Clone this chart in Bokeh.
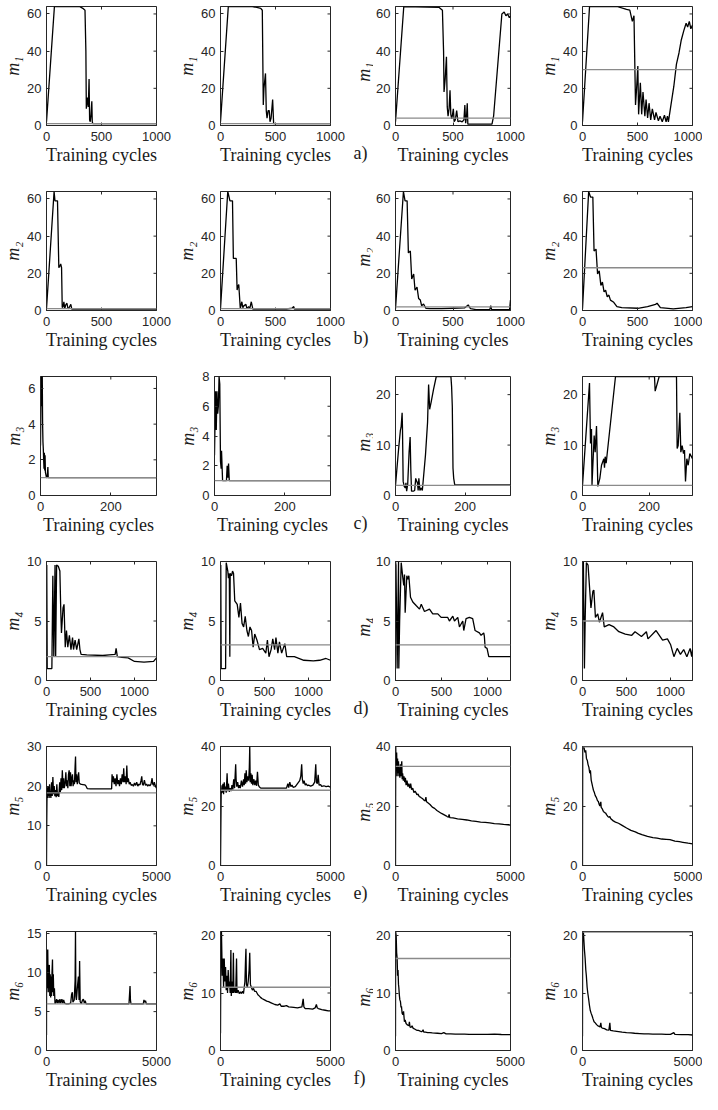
import math
from bokeh.plotting import figure
from bokeh.layouts import column, row
from bokeh.models import Range1d, FixedTicker, Span
from bokeh.core.properties import value
from bokeh.embed import file_html
from bokeh.resources import INLINE

# ---------------- data (x = training cycle, y = value) ----------------
a1 = [(0,2),(72,64),(300,64),(330,63),(350,62),(358,40),(362,9),(372,15),(380,10),(387,25),(392,3),(398,2),(405,6),(412,13),(416,2),(421,1),(1000,1)]
a2 = [(0,2),(71,64),(290,64),(330,63.5),(366,63),(380,62),(389,11),(395,20),(409,28),(416,8),(423,4),(433,8),(443,8),(450,2),(460,4),(474,14),(483,1),(1000,1)]
a3 = [(0,2),(72,64),(380,63.5),(408,62),(418,40),(422,18),(432,25),(443,37),(450,10),(457,5),(466,9),(474,19),(481,6),(489,3.5),(496,6),(503,9),(510,2),(520,3),(532,8),(543,2),(560,2.5),(580,2),(595,3),(603,11),(610,1.2),(618,5),(624,12),(629,0.7),(700,0.7),(839,0.7),(853,5),(925,60),(945,61),(960,59),(975,60),(990,58),(1000,59)]
a4 = [(0,2),(64,64),(313,64),(400,62.5),(430,62),(453,56),(468,59),(482,11),(492,20),(503,32),(510,6),(526,23),(538,6),(550,18),(567,5),(578,14),(592,4),(605,12),(620,3),(635,9),(655,3),(668,7),(690,2.5),(705,5),(725,2),(745,5.5),(760,2),(772,5),(781,2),(795,7.5),(830,21),(854,33),(877,39),(898,46),(921,51),(942,55),(956,53),(971,56),(985,52),(1000,54)]

b1 = [(0,1),(69,64),(77,59),(100,59),(112,23),(122,24),(129,25),(137,23),(143,1.6),(150,2),(158,4.7),(166,1),(175,3),(186,3.9),(195,1),(205,1.5),(221,3.3),(230,0.8),(1000,0.8)]
b2 = [(0,1),(66,64),(86,59),(109,59),(117,28),(143,28),(151,11),(158,13),(166,14),(180,1),(194,4.7),(203,1.5),(212,2.5),(231,3.3),(240,1),(255,2),(268,1.5),(280,4.7),(294,0.8),(600,0.8),(650,1.2),(666,2.1),(672,0.8),(1000,0.8)]
b3 = [(0,1),(69,64),(83,59),(101,59),(112,31),(129,32),(141,17),(158,19.6),(170,10.9),(187,12.6),(201,6.5),(216,5.6),(227,2.6),(244,3.5),(264,1.2),(300,1),(400,1),(500,1.2),(600,1.4),(632,3),(652,1),(700,0.5),(820,0.5),(828,2.6),(836,0.5),(992,0.5),(1000,5.6)]
b4 = [(0,1),(56,64),(73,61),(94,61),(105,32),(123,33),(137,19.6),(152,21.4),(167,13.5),(181,15.3),(196,10),(210,10.9),(225,7.4),(240,8.3),(254,5.6),(284,4.4),(313,2.1),(357,1.6),(503,1.2),(591,2.1),(664,3.3),(678,3.9),(708,1.5),(825,0.9),(942,1.6),(1000,2.1)]

c1 = [(0,2.8),(2,6.7),(4,5),(5,6.7),(6,4),(7,3),(8,2.6),(9,2.0),(10,1.5),(11,2.4),(12,1.4),(13,2.25),(14,1.3),(15,1.2),(17,1.0),(19,1.0),(21,1.6),(22,1.0),(23,1.0),(330,1.0)]
c2 = [(0,2.7),(3,7),(5,4.4),(7,7),(9,5.5),(11,6),(13,8),(15,7.5),(17,2.3),(19,1.8),(20,3.0),(23,1),(34,1),(36,2.0),(38,1.2),(40,2.15),(42,1),(330,1)]
c3 = [(0,2),(6.5,7.3),(9,9.3),(14,12.9),(16,13.5),(19,16.4),(20,13.5),(22,2.8),(25,1.8),(28,1.5),(30,2.5),(32,0.85),(35,2.2),(39,8.6),(42,11.6),(44,5),(46,0.85),(51,0.85),(55,1),(58,3.4),(61,2.8),(63,2.5),(65,1),(67,3.4),(70,1),(74,1.5),(77,1),(86,8),(92,14.5),(95,22),(98,17.1),(102,18.4),(109,21),(117,23.6),(159,23.6),(161,21.6),(163,17.7),(165,5.4),(167,3.4),(170,2.1),(330,2.1)]
c4 = [(0,2),(21,22.3),(24,10.3),(27,13.2),(28.5,2.1),(35,11.9),(38,8.6),(42,13.8),(46,1.8),(52,3.4),(57,6),(64,7.3),(66,5.5),(68,7.7),(71,6.4),(99,23.6),(216,23.6),(218,20.7),(230,23.6),(282,23.6),(284,9.3),(287,9.9),(292,16.4),(295,8.6),(299,9.9),(303,8.3),(306,9),(309,2.8),(313,7.3),(317,6),(322,8.3),(330,7.3)]

d1 = [(0,1),(3,9.7),(8,1),(25,1),(61,1),(72,8.8),(83,2),(97,9.7),(104,2),(115,9.7),(134,9.6),(152,9.2),(162,5.9),(170,4),(188,6.1),(199,6.4),(213,2.8),(227,4.2),(242,2.8),(260,3.8),(278,2.6),(296,3.6),(307,2.6),(325,3.4),(343,2.6),(368,3.5),(380,2.6),(393,2.2),(458,2.15),(639,2.1),(711,2.15),(780,2.2),(791,2.7),(805,2),(856,1.95),(928,1.9),(1000,1.6),(1108,1.55),(1217,1.6),(1250,1.9)]
d2 = [(0,1),(3,9.7),(8,1),(25,1),(58,1),(65,9.9),(83,9.2),(90,8.6),(100,9),(106,2),(110,9),(125,8.8),(137,9.2),(148,9),(162,6.7),(190,6.4),(209,5.3),(227,6.5),(245,4.8),(263,4.5),(281,5.4),(300,4.2),(317,3.7),(335,4.5),(353,4.2),(371,2.8),(389,3.9),(414,3.4),(443,2.6),(479,2.7),(515,2.3),(533,3.4),(551,2),(575,2.6),(594,3.5),(615,2.6),(630,3.6),(652,2.3),(670,3.25),(695,2.3),(731,3.1),(752,2),(839,2),(947,1.7),(1055,1.65),(1127,1.7),(1199,1.85),(1250,1.7)]
d3 = [(0,10),(5,9.7),(18,1),(33,10),(36,1),(45,5),(62,9.9),(80,8.6),(90,8),(98,8.9),(105,5.7),(123,8.8),(134,8.5),(145,8.8),(163,7),(188,6.6),(224,6.3),(261,6),(280,6.4),(315,5.8),(369,6),(405,5.6),(460,5.6),(496,5.3),(568,5.3),(586,5.0),(623,5.4),(641,5.0),(677,5.3),(695,4.5),(731,5.0),(742,4.2),(767,5.2),(803,5.3),(839,5.2),(865,4.2),(912,4.0),(930,3.8),(959,4.0),(966,3.7),(974,2.8),(995,2.7),(1014,2),(1250,2)]
d4 = [(0,10),(5,5),(10,10),(22,1),(30,5),(44,9.9),(63,9.7),(96,6.1),(118,7.5),(129,7.6),(147,5.3),(173,5.6),(192,4.9),(228,5.7),(247,4.5),(302,4.7),(357,4.5),(413,4.1),(486,3.9),(560,3.8),(597,4.1),(670,3.7),(726,4.1),(744,3.5),(836,4.2),(910,3.4),(965,3.5),(1002,3.0),(1039,2),(1076,2.7),(1113,2.2),(1150,2.6),(1186,2),(1223,2.7),(1241,2),(1250,2.6)]

e1 = [(0,0),(10,10),(20,16),(30,19.5),(45,17),(60,20),(80,17.5),(100,19.8),(120,17),(140,20.5),(160,17.5),(180,18.5),(200,17),(230,21),(260,17.5),(290,22.3),(320,18),(350,20),(380,17.5),(410,19),(440,17.2),(470,20.5),(500,17.5),(530,18.5),(560,17.3),(600,21),(630,18.5),(660,22),(690,19),(720,24),(750,19.5),(780,22),(810,19.5),(850,21),(880,23.5),(910,20),(940,21.5),(970,19.5),(1000,23),(1030,24),(1060,20),(1090,23.5),(1120,20),(1150,22),(1180,23),(1210,20),(1240,21.5),(1270,20.5),(1300,25),(1320,27.5),(1340,21),(1370,23),(1400,20.5),(1430,22),(1460,23.5),(1490,20.8),(1550,20.5),(1650,20.4),(1750,20.3),(1800,20),(1850,19.4),(2000,19.3),(2500,19.3),(2960,19.3),(2980,23),(3010,21),(3040,22.5),(3080,20.5),(3120,22),(3160,20),(3200,23),(3240,20.5),(3280,21.5),(3320,20),(3360,22),(3400,20.5),(3440,23),(3480,21),(3510,24.5),(3540,21),(3580,22.5),(3620,20.5),(3650,25.2),(3680,21),(3720,22),(3760,20.5),(3800,21),(3850,20.2),(3900,20.4),(3950,20),(4000,20.8),(4050,20.2),(4100,21),(4150,20),(4200,20.5),(4250,20.3),(4300,21.5),(4330,22.5),(4360,20.5),(4400,20.2),(4450,21.5),(4500,20.2),(4550,20.5),(4600,20),(4650,20.4),(4700,20.1),(4750,20.5),(4800,22),(4830,20.5),(4870,20.2),(4900,21),(4950,20),(5000,19.5)]
e2 = [(0,0),(15,12),(30,24),(50,25),(70,27),(90,24.5),(110,27.5),(140,24),(170,28),(200,25),(230,26.5),(260,24.5),(300,31),(330,25),(360,27.5),(400,24.8),(440,26),(480,25),(520,27),(560,25.5),(600,29),(640,26),(670,31),(690,34),(710,29),(740,26.5),(780,28),(820,26),(860,27),(900,26),(950,28.5),(1000,26.5),(1050,29),(1080,27),(1110,31),(1140,27.5),(1170,32),(1200,28),(1240,30),(1280,28.5),(1310,33),(1330,40),(1350,28),(1380,31),(1410,27.5),(1440,30.5),(1470,27),(1520,29),(1560,27),(1600,28.5),(1640,26.8),(1680,31.5),(1720,27),(1760,26.5),(1830,26),(2000,26),(2500,26),(3000,26),(3060,27.5),(3100,26.2),(3150,28),(3200,26.5),(3250,27),(3300,26.3),(3400,26.5),(3500,27.5),(3600,28.5),(3650,30),(3690,34),(3720,29),(3760,27.5),(3800,28.5),(3850,27),(3900,27.5),(3950,26.8),(4000,27),(4100,26.7),(4200,27),(4280,28),(4330,34),(4360,28),(4400,27.5),(4440,30.5),(4480,27),(4550,27.2),(4600,26.6),(4700,26.8),(4800,26.5),(4900,26.7),(5000,26.3)]
e3 = [(0,0),(10,40),(30,32),(50,38),(70,30),(90,36),(110,31),(130,35),(150,30),(170,33),(190,29.5),(210,34),(230,30),(250,33),(273,35),(290,29),(310,31),(340,28.5),(370,30),(400,28),(430,29.5),(460,27),(500,28.5),(540,26.5),(580,27.5),(620,26),(660,27.5),(700,25.5),(750,26),(800,24.5),(850,25),(890,24.5),(930,23.8),(980,24),(1030,23.2),(1080,23),(1130,22.7),(1180,22.5),(1230,22),(1290,21.7),(1322,23),(1350,21.4),(1420,21),(1500,20.5),(1600,19.6),(1700,19.2),(1800,18.5),(1900,18),(2000,17.5),(2100,17.1),(2200,16.7),(2256,16.4),(2300,16.2),(2330,17.2),(2360,16.1),(2500,16),(2700,15.7),(2900,15.5),(3100,15.3),(3300,15),(3500,14.8),(3700,14.6),(3900,14.5),(4100,14.3),(4300,14.1),(4500,14),(4700,13.8),(4900,13.7),(5000,13.6)]
e4 = [(0,0),(10,40),(40,40),(73,39.5),(110,38),(146,38.7),(180,36),(219,35.3),(250,34),(292,33),(330,31),(360,32),(395,28.7),(430,27.5),(460,26.5),(497,25.3),(540,24.5),(580,23.5),(620,23),(643,22.6),(680,21.8),(720,21.5),(760,20.5),(790,20),(833,21.4),(850,19.5),(900,19),(950,18.2),(1000,17.8),(1053,17.6),(1100,17),(1150,16.5),(1200,16.2),(1243,16.5),(1272,15.9),(1300,15.6),(1400,15),(1500,14.6),(1637,14.2),(1800,13.5),(2003,12.6),(2200,11.8),(2400,11.3),(2515,10.9),(2700,10.4),(2953,9.8),(3200,9.4),(3392,9.2),(3600,8.9),(3800,8.8),(3977,8.7),(4200,8.2),(4400,8),(4562,7.8),(4800,7.5),(5000,7.3)]

f1 = [(0,2),(5,13),(30,8),(57,13),(80,7.5),(100,10.5),(129,11),(150,7),(170,9.8),(190,6.8),(210,9.5),(230,7),(250,10),(272,11.7),(290,7.5),(310,9.8),(330,7),(360,8),(387,6),(420,6.2),(460,6.6),(490,6.1),(530,6.5),(570,6.1),(610,6.6),(650,6.1),(700,6.6),(740,6.1),(780,6.5),(820,6.1),(900,6),(1000,6),(1100,6.1),(1140,7.2),(1175,7.5),(1200,6.2),(1260,6.5),(1300,9),(1318,15.3),(1335,7),(1360,6.5),(1400,8),(1450,9.5),(1480,6.5),(1505,11.5),(1530,6.3),(1580,6),(1640,6.5),(1677,6.6),(1720,6.1),(1760,6.4),(1800,6),(2000,6),(3000,6),(3750,6),(3780,7.5),(3797,8.3),(3815,6.5),(3840,6),(4400,6),(4430,6.5),(4460,6.2),(4500,6.4),(4540,6),(5000,6)]
f2 = [(0,3),(20,20.7),(43,20.7),(80,13),(110,16),(140,11),(170,16),(200,12),(230,14.5),(260,10.5),(290,13),(320,10),(350,14),(380,11),(410,12),(440,10),(472,17.5),(490,9.5),(530,12),(560,10),(586,17),(610,10),(650,11),(690,10),(729,16),(750,10),(800,10.5),(850,9.9),(900,10.2),(950,9.9),(1000,10.3),(1043,9.9),(1080,11),(1110,12),(1140,16),(1157,17.7),(1180,11.5),(1220,11),(1260,12),(1300,14),(1329,17),(1360,11.5),(1400,11),(1450,10.5),(1500,10.8),(1550,10.3),(1615,10.3),(1700,9.7),(1758,9.5),(1830,9.2),(1900,9),(2000,8.8),(2100,8.6),(2186,8.5),(2300,8.3),(2472,8),(2600,7.9),(2700,8.1),(2758,7.7),(2900,7.7),(3000,7.8),(3100,7.6),(3329,7.5),(3500,7.4),(3700,7.6),(3758,9),(3790,7.6),(3850,7.3),(4000,7.3),(4187,7.2),(4300,7.4),(4358,8),(4400,7.4),(4450,7.3),(4600,7.1),(4758,7),(4900,6.9),(5000,6.9)]
f3 = [(0,2.5),(5,20.7),(30,20),(50,17),(72,16),(90,13),(110,14),(130,11.5),(144,11),(170,9.5),(190,8.8),(216,8.5),(240,7.5),(260,7.7),(287,6.5),(320,6.2),(350,6.8),(388,5),(420,5.3),(460,4.7),(503,4.5),(540,4.4),(580,4.3),(604,5),(630,4.1),(675,4),(720,4.3),(760,3.9),(800,3.8),(850,3.7),(890,3.6),(950,3.5),(1000,3.5),(1050,3.4),(1107,3.3),(1150,3.3),(1200,3.6),(1230,3.2),(1300,3.2),(1400,3.1),(1500,3.1),(1600,3.05),(1825,3),(2000,2.95),(2100,3.1),(2200,2.9),(2400,2.9),(2600,2.85),(2800,2.85),(3000,2.85),(3200,2.8),(3600,2.8),(4000,2.8),(4300,2.85),(4600,2.78),(5000,2.75)]
f4 = [(0,2.5),(5,20.7),(40,20.7),(88,17.5),(120,16),(150,14),(175,13),(210,11),(240,10),(278,9),(310,8),(351,7),(390,6.5),(439,6),(480,5.5),(526,5),(580,4.8),(640,4.5),(700,4.3),(760,4.2),(800,4.1),(833,4.8),(860,4),(900,3.9),(1000,3.8),(1100,3.6),(1200,3.55),(1243,4.8),(1270,3.5),(1400,3.4),(1637,3.3),(1800,3.2),(2000,3.1),(2200,3.05),(2368,3.0),(2600,2.95),(2800,2.9),(3000,2.9),(3200,2.85),(3400,2.85),(3600,2.85),(3800,2.8),(4000,2.8),(4150,3.1),(4200,2.8),(4500,2.75),(4800,2.75),(5000,2.7)]

# grey reference levels per row (columns 1..4)
thr_a = [1, 1, 4, 30]
thr_b = [1, 1, 2, 23]
thr_c = [1, 1, 2, 2]
thr_d = [2, 3, 3, 5]
thr_e = [18.3, 25.3, 33.3, 39.9]
thr_f = [6, 11, 16, 20.6]

# axis limits and ticks
xmax_rows = [1000, 1000, 330, 1250, 5000, 5000]
xticks_rows = [[0, 500, 1000], [0, 500, 1000], [0, 200], [0, 500, 1000], [0, 5000], [0, 5000]]
ymax_rows = [[64, 64, 64, 64], [64, 64, 64, 64], [6.67, 8, 23.6, 23.6], [10, 10, 10, 10], [30, 40, 40, 40], [15.3, 20.7, 20.7, 20.7]]
yticks_rows = [
    [[0, 20, 40, 60]] * 4,
    [[0, 20, 40, 60]] * 4,
    [[0, 2, 4, 6], [0, 2, 4, 6, 8], [0, 10, 20], [0, 10, 20]],
    [[0, 5, 10]] * 4,
    [[0, 10, 20, 30], [0, 20, 40], [0, 20, 40], [0, 20, 40]],
    [[0, 5, 10, 15], [0, 10, 20], [0, 10, 20], [0, 10, 20]],
]
ylabels = ["m\u2081", "m\u2082", "m\u2083", "m\u2084", "m\u2085", "m\u2086"]
letters = ["a)", "b)", "c)", "d)", "e)", "f)"]
xlabel = "Training cycles"

series_rows = [[a1, a2, a3, a4], [b1, b2, b3, b4], [c1, c2, c3, c4],
               [d1, d2, d3, d4], [e1, e2, e3, e4], [f1, f2, f3, f4]]
thr_rows = [thr_a, thr_b, thr_c, thr_d, thr_e, thr_f]

# ---------------- layout / style ----------------
AX = "#262626"
TXT = "#1a1a1a"
FRAME_W = 116
FRAME_H = 119
TOP = 6
# figure widths and left borders per column; column 3's y label lives in a
# narrow strip (together with the panel letter) just left of it
WIDTHS = [174, 176, 163, 166]
LEFTS = [40, 40, 21, 40]
STRIP_W = 23
HEIGHTS = [185, 185, 185, 185, 185, 169]
LETTER_DROP = 21   # letter centre below the frame bottom, px


def style_main_axis(ax, ticks):
    ax.ticker = FixedTicker(ticks=ticks)
    ax.axis_line_color = AX
    ax.major_tick_line_color = AX
    ax.minor_tick_line_color = None
    ax.major_tick_in = 3
    ax.major_tick_out = 0
    ax.major_label_text_font = "Liberation Sans"
    ax.major_label_text_font_size = "13px"
    ax.major_label_text_color = AX


def strip_figure(h, ylab, letter):
    # y measured in pixels from the top of the strip (range reversed)
    s = figure(frame_width=STRIP_W, frame_height=h, title=None,
               x_range=Range1d(0, STRIP_W), y_range=Range1d(h, 0),
               output_backend="svg", toolbar_location=None,
               x_axis_location=None, y_axis_location=None,
               min_border=0, min_border_left=0, min_border_right=0,
               min_border_top=0, min_border_bottom=0)
    s.grid.visible = False
    s.outline_line_color = None
    s.text(x=[13], y=[TOP + FRAME_H / 2.0], text=[ylab], angle=math.pi / 2,
           text_font=value("Liberation Serif"), text_font_style="italic",
           text_font_size="18px", text_color=TXT,
           text_align="center", text_baseline="middle")
    s.text(x=[3], y=[TOP + FRAME_H + LETTER_DROP], text=[letter],
           text_font=value("Liberation Serif"), text_font_size="18px",
           text_color=TXT, text_align="left", text_baseline="middle")
    return s


rows = []
for r in range(6):
    figs = []
    for c in range(4):
        w = WIDTHS[c]
        h = HEIGHTS[r]
        left = LEFTS[c]
        xmax = xmax_rows[r]
        ymax = ymax_rows[r][c]
        p = figure(width=w, height=h, title=None,
                   x_range=Range1d(0, xmax), y_range=Range1d(0, ymax),
                   output_backend="svg", toolbar_location=None,
                   min_border_left=left, min_border_right=w - left - FRAME_W,
                   min_border_top=TOP, min_border_bottom=h - TOP - FRAME_H)
        p.grid.visible = False
        p.outline_line_color = AX
        p.outline_line_width = 1
        p.background_fill_color = "white"
        p.border_fill_color = "white"

        style_main_axis(p.xaxis[0], xticks_rows[r])
        p.xaxis[0].axis_label = xlabel
        p.xaxis[0].axis_label_text_font = "Liberation Serif"
        p.xaxis[0].axis_label_text_font_style = "normal"
        p.xaxis[0].axis_label_text_font_size = "18px"
        p.xaxis[0].axis_label_text_color = TXT
        p.xaxis[0].major_label_standoff = 6
        p.xaxis[0].axis_label_standoff = 1

        style_main_axis(p.yaxis[0], yticks_rows[r][c])
        p.yaxis[0].major_label_standoff = 5
        if c != 2:
            p.yaxis[0].axis_label = ylabels[r]
            p.yaxis[0].axis_label_text_font = "Liberation Serif"
            p.yaxis[0].axis_label_text_font_style = "italic"
            p.yaxis[0].axis_label_text_font_size = "18px"
            p.yaxis[0].axis_label_text_color = TXT
            p.yaxis[0].axis_label_standoff = 1

        # mirrored inward ticks on the top and right edges of the box
        xt = xticks_rows[r]
        yt = yticks_rows[r][c]
        p.ray(x=xt, y=[ymax] * len(xt), length=3, length_units="screen",
              angle=-math.pi / 2, line_color=AX, line_width=1)
        p.ray(x=[xmax] * len(yt), y=yt, length=3, length_units="screen",
              angle=math.pi, line_color=AX, line_width=1)

        pts = series_rows[r][c]
        xs = [pt[0] for pt in pts]
        ys = [pt[1] for pt in pts]
        p.line(xs, ys, line_color="black", line_width=1.3)
        p.add_layout(Span(location=thr_rows[r][c], dimension="width",
                          line_color="#8a8a8a", line_width=1.3))

        if c == 2:
            figs.append(strip_figure(h, ylabels[r], letters[r]))
        figs.append(p)
    rows.append(row(*figs))

layout = column(*rows)
open("out.html", "w").write(file_html(layout, INLINE))
